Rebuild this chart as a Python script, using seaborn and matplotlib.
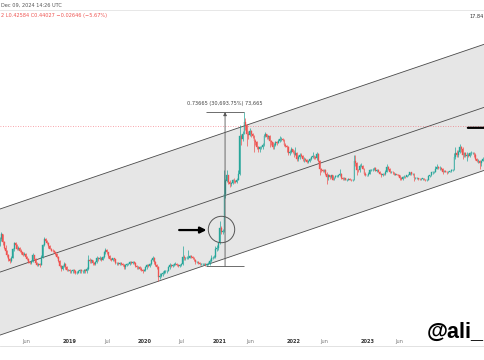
import matplotlib.pyplot as plt
import numpy as np
import pandas as pd
import seaborn as sns

# DOGE/USD weekly candles (log scale)
week_start = '2018-01-22'
first_open = 0.0052
closes = [
    # 2018
    0.0066, 0.0078, 0.0058, 0.0048, 0.0042, 0.0036, 0.0031, 0.0029, 0.0033, 0.0045,
    0.0056, 0.0052, 0.0046, 0.0047, 0.0043, 0.0040, 0.0037, 0.0038, 0.0034, 0.0031,
    0.0028, 0.0027, 0.0029, 0.0036, 0.0031, 0.0027, 0.0025, 0.0026, 0.0025, 0.0034,
    0.0052, 0.0065, 0.0061, 0.0056, 0.0050, 0.0046, 0.0043, 0.0042, 0.0040, 0.0038,
    0.0034, 0.0029, 0.0024, 0.0022, 0.0024, 0.0026, 0.0023, 0.0021, 0.0021, 0.0020,
    # 2019
    0.0020, 0.0021, 0.0020, 0.0019, 0.0019, 0.0020, 0.0021, 0.0020, 0.0020, 0.0021,
    0.0020, 0.0022, 0.0030, 0.0029, 0.0030, 0.0027, 0.0026, 0.0028, 0.0032, 0.0031,
    0.0033, 0.0030, 0.0034, 0.0040, 0.0044, 0.0040, 0.0035, 0.0031, 0.0030, 0.0032,
    0.0031, 0.0027, 0.0027, 0.0026, 0.0027, 0.0026, 0.0025, 0.0023, 0.0025, 0.0026,
    0.0026, 0.0028, 0.0027, 0.0028, 0.0027, 0.0024, 0.0023, 0.0023, 0.0022, 0.0021,
    0.0020, 0.0021,
    # 2020
    0.0023, 0.0025, 0.0024, 0.0026, 0.0030, 0.0033, 0.0028, 0.0025, 0.0023, 0.0016,
    0.0017, 0.0018, 0.0019, 0.0020, 0.0020, 0.0020, 0.0023, 0.0025, 0.0024, 0.0025,
    0.0026, 0.0026, 0.0025, 0.0024, 0.0025, 0.0026, 0.0034, 0.0032, 0.0032, 0.0033,
    0.0033, 0.0035, 0.0034, 0.0033, 0.0030, 0.0028, 0.0028, 0.0027, 0.0026, 0.0026,
    0.0026, 0.0026, 0.0025, 0.0026, 0.0026, 0.0029, 0.0032, 0.0033, 0.0034, 0.0046,
    0.0047, 0.0057,
    # 2021
    0.0098, 0.0085, 0.0088, 0.035, 0.057, 0.070, 0.055, 0.050, 0.052, 0.058,
    0.056, 0.055, 0.060, 0.075, 0.30, 0.27, 0.33, 0.50, 0.45, 0.33,
    0.31, 0.37, 0.32, 0.30, 0.25, 0.24, 0.20, 0.19, 0.20, 0.20,
    0.22, 0.30, 0.32, 0.29, 0.30, 0.25, 0.24, 0.20, 0.22, 0.24,
    0.23, 0.25, 0.27, 0.27, 0.26, 0.22, 0.21, 0.20, 0.16, 0.17,
    0.19, 0.17,
    # 2022
    0.15, 0.16, 0.13, 0.14, 0.15, 0.145, 0.13, 0.13, 0.125, 0.115,
    0.12, 0.13, 0.14, 0.145, 0.14, 0.135, 0.155, 0.12, 0.088, 0.085,
    0.082, 0.085, 0.075, 0.065, 0.070, 0.065, 0.070, 0.060, 0.065, 0.068,
    0.068, 0.070, 0.075, 0.063, 0.062, 0.063, 0.060, 0.060, 0.061, 0.060,
    0.058, 0.060, 0.12, 0.11, 0.087, 0.085, 0.10, 0.10, 0.090, 0.075,
    0.070, 0.070,
    # 2023
    0.075, 0.085, 0.087, 0.087, 0.092, 0.083, 0.087, 0.080, 0.075, 0.070,
    0.074, 0.073, 0.080, 0.095, 0.090, 0.080, 0.080, 0.078, 0.072, 0.074,
    0.072, 0.070, 0.063, 0.061, 0.066, 0.067, 0.066, 0.070, 0.071, 0.078,
    0.074, 0.075, 0.063, 0.063, 0.063, 0.062, 0.061, 0.062, 0.063, 0.060,
    0.058, 0.060, 0.068, 0.070, 0.078, 0.078, 0.080, 0.090, 0.095, 0.092,
    0.092, 0.090,
    # 2024
    0.080, 0.083, 0.080, 0.079, 0.079, 0.082, 0.086, 0.087, 0.14, 0.16,
    0.15, 0.17, 0.20, 0.19, 0.15, 0.16, 0.145, 0.15, 0.145, 0.16,
    0.16, 0.16, 0.15, 0.13, 0.12, 0.12, 0.11, 0.12, 0.13, 0.13,
]
highs = [
    # 2018
    0.0070, 0.0085, 0.0080, 0.0062, 0.0052, 0.0044, 0.0038, 0.0033, 0.0035, 0.0048,
    0.0060, 0.0058, 0.0054, 0.0050, 0.0049, 0.0045, 0.0041, 0.0041, 0.0039, 0.0035,
    0.0032, 0.0029, 0.0030, 0.0039, 0.0037, 0.0032, 0.0028, 0.0027, 0.0027, 0.0036,
    0.0055, 0.0072, 0.0068, 0.0063, 0.0058, 0.0052, 0.0048, 0.0045, 0.0044, 0.0041,
    0.0039, 0.0035, 0.0030, 0.0025, 0.0025, 0.0028, 0.0027, 0.0024, 0.0022, 0.0022,
    # 2019
    0.0021, 0.0022, 0.0022, 0.0021, 0.0020, 0.0021, 0.0022, 0.0022, 0.0021, 0.0022,
    0.0022, 0.0023, 0.0036, 0.0032, 0.0031, 0.0030, 0.0028, 0.0029, 0.0035, 0.0034,
    0.0035, 0.0034, 0.0035, 0.0042, 0.0048, 0.0045, 0.0041, 0.0036, 0.0033, 0.0033,
    0.0033, 0.0031, 0.0028, 0.0028, 0.0028, 0.0028, 0.0027, 0.0026, 0.0026, 0.0027,
    0.0027, 0.0029, 0.0029, 0.0029, 0.0029, 0.0028, 0.0025, 0.0024, 0.0024, 0.0023,
    0.0022, 0.0022,
    # 2020
    0.0024, 0.0026, 0.0026, 0.0027, 0.0031, 0.0035, 0.0034, 0.0029, 0.0026, 0.0024,
    0.0019, 0.0019, 0.0020, 0.0021, 0.0021, 0.0021, 0.0024, 0.0027, 0.0026, 0.0026,
    0.0027, 0.0028, 0.0027, 0.0026, 0.0026, 0.0027, 0.0050, 0.0036, 0.0034, 0.0035,
    0.0044, 0.0037, 0.0036, 0.0035, 0.0034, 0.0031, 0.0029, 0.0029, 0.0028, 0.0027,
    0.0027, 0.0027, 0.0027, 0.0027, 0.0028, 0.0031, 0.0036, 0.0035, 0.0036, 0.0050,
    0.0052, 0.0060,
    # 2021
    0.0130, 0.0105, 0.0095, 0.085, 0.062, 0.085, 0.072, 0.058, 0.055, 0.062,
    0.063, 0.058, 0.064, 0.085, 0.45, 0.33, 0.36, 0.74, 0.60, 0.48,
    0.36, 0.40, 0.38, 0.34, 0.31, 0.27, 0.25, 0.21, 0.21, 0.21,
    0.23, 0.32, 0.35, 0.33, 0.31, 0.31, 0.26, 0.24, 0.23, 0.25,
    0.25, 0.27, 0.30, 0.29, 0.28, 0.27, 0.23, 0.22, 0.21, 0.18,
    0.20, 0.19,
    # 2022
    0.18, 0.20, 0.17, 0.15, 0.16, 0.16, 0.15, 0.14, 0.135, 0.13,
    0.125, 0.135, 0.145, 0.17, 0.15, 0.145, 0.17, 0.16, 0.125, 0.092,
    0.090, 0.088, 0.088, 0.078, 0.075, 0.072, 0.072, 0.071, 0.067, 0.071,
    0.070, 0.072, 0.088, 0.077, 0.065, 0.065, 0.064, 0.062, 0.063, 0.063,
    0.062, 0.062, 0.15, 0.15, 0.115, 0.090, 0.105, 0.11, 0.104, 0.092,
    0.078, 0.072,
    # 2023
    0.078, 0.088, 0.090, 0.092, 0.095, 0.094, 0.090, 0.088, 0.082, 0.076,
    0.077, 0.076, 0.085, 0.105, 0.098, 0.092, 0.082, 0.082, 0.079, 0.076,
    0.075, 0.074, 0.071, 0.065, 0.068, 0.070, 0.069, 0.072, 0.074, 0.080,
    0.079, 0.077, 0.076, 0.065, 0.066, 0.064, 0.063, 0.064, 0.064, 0.064,
    0.061, 0.062, 0.070, 0.072, 0.080, 0.082, 0.082, 0.100, 0.105, 0.100,
    0.098, 0.095,
    # 2024
    0.092, 0.086, 0.085, 0.082, 0.081, 0.084, 0.088, 0.090, 0.16, 0.20,
    0.18, 0.18, 0.228, 0.21, 0.20, 0.17, 0.17, 0.165, 0.16, 0.17,
    0.175, 0.17, 0.165, 0.16, 0.135, 0.13, 0.125, 0.125, 0.14, 0.145,
]
lows = [
    # 2018
    0.0050, 0.0062, 0.0052, 0.0045, 0.0040, 0.0034, 0.0029, 0.0027, 0.0028, 0.0032,
    0.0043, 0.0049, 0.0044, 0.0044, 0.0041, 0.0038, 0.0035, 0.0036, 0.0032, 0.0030,
    0.0027, 0.0026, 0.0026, 0.0028, 0.0030, 0.0026, 0.0024, 0.0024, 0.0023, 0.0025,
    0.0033, 0.0050, 0.0058, 0.0054, 0.0048, 0.0045, 0.0042, 0.0041, 0.0039, 0.0037,
    0.0033, 0.0028, 0.0023, 0.0020, 0.0021, 0.0023, 0.0022, 0.0020, 0.0020, 0.0019,
    # 2019
    0.0019, 0.0019, 0.0019, 0.0018, 0.0018, 0.0019, 0.0019, 0.0019, 0.0019, 0.0019,
    0.0019, 0.0019, 0.0021, 0.0027, 0.0027, 0.0025, 0.0025, 0.0025, 0.0027, 0.0029,
    0.0030, 0.0029, 0.0030, 0.0033, 0.0038, 0.0038, 0.0033, 0.0030, 0.0029, 0.0029,
    0.0029, 0.0026, 0.0025, 0.0025, 0.0025, 0.0025, 0.0024, 0.0022, 0.0022, 0.0024,
    0.0025, 0.0025, 0.0026, 0.0026, 0.0026, 0.0023, 0.0022, 0.0022, 0.0021, 0.0020,
    0.0019, 0.0020,
    # 2020
    0.0020, 0.0022, 0.0023, 0.0023, 0.0025, 0.0029, 0.0026, 0.0024, 0.0022, 0.0014,
    0.0015, 0.0016, 0.0017, 0.0018, 0.0019, 0.0019, 0.0020, 0.0022, 0.0023, 0.0023,
    0.0024, 0.0025, 0.0024, 0.0023, 0.0023, 0.0024, 0.0025, 0.0030, 0.0030, 0.0031,
    0.0031, 0.0032, 0.0032, 0.0031, 0.0029, 0.0026, 0.0027, 0.0026, 0.0025, 0.0025,
    0.0025, 0.0025, 0.0024, 0.0024, 0.0025, 0.0025, 0.0028, 0.0031, 0.0032, 0.0033,
    0.0042, 0.0044,
    # 2021
    0.0055, 0.0078, 0.0080, 0.0085, 0.030, 0.055, 0.050, 0.045, 0.048, 0.050,
    0.053, 0.052, 0.053, 0.058, 0.072, 0.22, 0.25, 0.32, 0.38, 0.21,
    0.27, 0.30, 0.29, 0.28, 0.17, 0.22, 0.19, 0.17, 0.17, 0.19,
    0.19, 0.21, 0.29, 0.27, 0.27, 0.20, 0.22, 0.19, 0.19, 0.21,
    0.22, 0.23, 0.24, 0.25, 0.25, 0.21, 0.20, 0.17, 0.15, 0.15,
    0.16, 0.16,
    # 2022
    0.14, 0.15, 0.12, 0.12, 0.13, 0.14, 0.12, 0.115, 0.12, 0.11,
    0.11, 0.115, 0.125, 0.135, 0.13, 0.13, 0.125, 0.115, 0.070, 0.080,
    0.078, 0.079, 0.072, 0.050, 0.060, 0.062, 0.063, 0.058, 0.058, 0.063,
    0.065, 0.066, 0.068, 0.061, 0.060, 0.060, 0.058, 0.057, 0.058, 0.058,
    0.056, 0.056, 0.059, 0.10, 0.070, 0.080, 0.080, 0.095, 0.088, 0.070,
    0.068, 0.068,
    # 2023
    0.068, 0.073, 0.082, 0.084, 0.085, 0.081, 0.080, 0.078, 0.073, 0.066,
    0.068, 0.071, 0.072, 0.078, 0.086, 0.077, 0.077, 0.075, 0.070, 0.071,
    0.070, 0.068, 0.058, 0.058, 0.060, 0.064, 0.064, 0.065, 0.068, 0.070,
    0.072, 0.072, 0.057, 0.061, 0.061, 0.060, 0.059, 0.060, 0.060, 0.058,
    0.057, 0.057, 0.059, 0.066, 0.068, 0.074, 0.076, 0.078, 0.088, 0.088,
    0.087, 0.086,
    # 2024
    0.075, 0.078, 0.078, 0.075, 0.077, 0.078, 0.080, 0.083, 0.085, 0.13,
    0.14, 0.14, 0.16, 0.17, 0.13, 0.14, 0.14, 0.12, 0.14, 0.14,
    0.15, 0.155, 0.14, 0.125, 0.115, 0.11, 0.09, 0.10, 0.12, 0.125,
]

# parallel channel (drawn trend lines)
channel_dates = ['2018-01-23', '2024-07-27']
channel_upper = [0.0201, 9.22]
channel_mid = [0.00193, 0.887]
channel_lower = [0.000186, 0.0853]

last_price = 0.44027
measure_low = 0.0024
measure_high = 0.73665
measure_label = '0.73665 (30,693.75%) 73,665'

tick_dates = ['2018-06-01', '2019-01-01', '2019-07-01', '2020-01-01', '2020-07-01',
              '2021-01-01', '2021-06-01', '2022-01-01', '2022-06-01', '2023-01-01',
              '2023-06-01']
tick_labels = ['Jun', '2019', 'Jul', '2020', 'Jul', '2021', 'Jun', '2022', 'Jun', '2023', 'Jun']

sns.set_theme(style='white')
plt.rcParams['font.family'] = ['DejaVu Sans']

fig = plt.figure(figsize=(4.85, 3.6), dpi=100)
ax = fig.add_axes([0, 14 / 360, 1, 336 / 360])
ax.set_yscale('log')

green = '#26a69a'
red = '#ef5350'

dates = pd.date_range(week_start, periods=len(closes), freq='7D')
opens = [first_open] + closes[:-1]
o = np.array(opens)
c = np.array(closes)
cols = [green if cc >= oo else red for oo, cc in zip(o, c)]

# channel
cd = pd.to_datetime(channel_dates)
ax.fill_between(cd, channel_lower, channel_upper, color='#e6e6e6', lw=0, zorder=0)
for line in (channel_upper, channel_mid, channel_lower):
    sns.lineplot(x=cd, y=line, ax=ax, color='#4a4a4a', lw=0.6, zorder=1)

# candles
ax.vlines(dates, lows, highs, colors=cols, lw=0.5, zorder=3)
ax.bar(dates, np.abs(c - o), bottom=np.minimum(o, c), width=4.5,
       color=cols, edgecolor=cols, lw=0.25, zorder=4)

# current price line
ax.axhline(last_price, color='#f23645', lw=0.6, ls=(0, (1, 2)), alpha=0.6, zorder=2)

# measurement tool
x_left = pd.Timestamp('2020-10-29')
x_right = pd.Timestamp('2021-05-03')
x_vert = pd.Timestamp('2021-01-30')
ax.hlines([measure_low, measure_high], x_left, x_right, color='#555555', lw=0.6, zorder=5)
ax.annotate('', xy=(x_vert, measure_high), xytext=(x_vert, measure_low),
            arrowprops=dict(arrowstyle='-|>', color='#555555', lw=0.6,
                            mutation_scale=5, shrinkA=0, shrinkB=0), zorder=5)
ax.annotate(measure_label, xy=(x_vert, measure_high), xytext=(0, 4),
            textcoords='offset points', ha='center', va='bottom',
            fontsize=3.6, color='#444444')

# circle + arrows
ax.plot([pd.Timestamp('2021-01-10')], [0.0096], marker='o', ms=19,
        mfc='none', mec='#555555', mew=0.7, zorder=6)
ax.annotate('', xy=(pd.Timestamp('2020-10-31'), 0.0092),
            xytext=(pd.Timestamp('2020-06-19'), 0.0092),
            arrowprops=dict(arrowstyle='-|>', color='black', lw=1.6,
                            mutation_scale=9, shrinkA=0, shrinkB=0), zorder=6)
ax.annotate('', xy=(pd.Timestamp('2024-09-10'), 0.41),
            xytext=(pd.Timestamp('2024-05-04'), 0.41),
            arrowprops=dict(arrowstyle='-|>', color='black', lw=1.6,
                            mutation_scale=9, shrinkA=0, shrinkB=0),
            annotation_clip=False, zorder=6)

ax.set_xlim(pd.Timestamp('2018-01-23'), pd.Timestamp('2024-07-27'))
ax.set_ylim(0.000124, 32.6)

ax.set_xticks(pd.to_datetime(tick_dates))
ax.set_xticklabels(tick_labels)
ax.tick_params(axis='x', length=0, pad=-4.7, labelsize=3.6, colors='#777777')
for lab in ax.get_xticklabels():
    if lab.get_text().isdigit():
        lab.set_fontweight('bold')
        lab.set_color('#333333')
ax.tick_params(axis='y', which='both', left=False, right=False,
               labelleft=False, labelright=False)
ax.set_xlabel('')
ax.set_ylabel('')
for side in ('left', 'right'):
    ax.spines[side].set_visible(False)
ax.spines['top'].set_color('#e3e3e3')
ax.spines['top'].set_linewidth(0.6)
ax.spines['bottom'].set_color('#dddddd')
ax.spines['bottom'].set_linewidth(0.6)

# header and watermark
fig.text(1 / 485, 1 - 5 / 360, 'Dec 09, 2024 14:26 UTC', fontsize=3.6,
         color='#555555', ha='left', va='center')
fig.text(1 / 485, 1 - 16 / 360, '2 L0.42584 C0.44027 \u22120.02646 (\u22125.67%)',
         fontsize=3.6, color='#ef5350', ha='left', va='center')
fig.text(484 / 485, 1 - 17 / 360, '17.84', fontsize=3.6, color='#333333',
         ha='right', va='center')
fig.text(427 / 485, 22 / 360, '@ali_', fontsize=15.5, fontweight='bold',
         family=['Liberation Sans', 'DejaVu Sans'], color='black',
         ha='left', va='baseline')

fig.savefig('out.png', dpi=100)
